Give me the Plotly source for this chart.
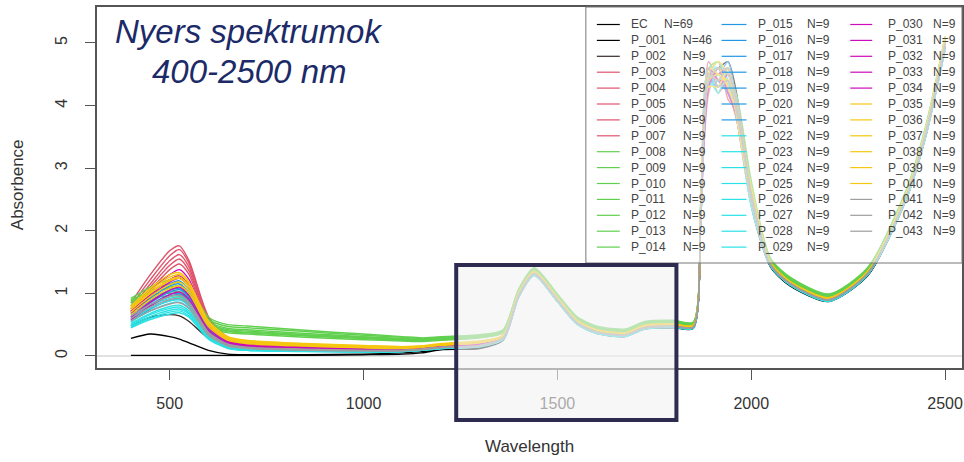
import plotly.graph_objects as go

# ---------------- data ----------------
WAVELENGTH = [400, 450, 500, 525, 550, 600, 650, 700, 850, 1000, 1100, 1150, 1200, 1300,
              1360, 1400, 1440, 1500, 1550, 1600, 1675, 1725, 1800, 1850, 1870, 1890,
              1915, 1940, 1965, 2000, 2050, 2100, 2200, 2300, 2400, 2450, 2500]

EC    = [0.01,0.01,0.01,0.01,0.01,0.01,0.01,0.01,0.01,0.02,0.03,0.05,0.10,0.12,
         0.25,0.94,1.29,0.87,0.51,0.36,0.31,0.43,0.45,0.44,2.2,4.5,4.6,4.7,4.1,2.4,1.42,1.12,0.87,1.28,2.50,3.50,4.90]
P_001 = [0.28,0.35,0.31,0.27,0.21,0.09,0.03,0.02,0.02,0.03,0.05,0.07,0.11,0.14,
         0.27,0.95,1.30,0.88,0.52,0.37,0.32,0.44,0.46,0.45,2.3,4.4,4.5,4.3,3.9,2.5,1.44,1.14,0.88,1.29,2.52,3.52,4.95]
P_002 = [0.48,0.62,0.66,0.64,0.55,0.28,0.14,0.10,0.08,0.07,0.08,0.10,0.14,0.17,
         0.29,0.97,1.32,0.90,0.54,0.39,0.34,0.46,0.48,0.47,2.3,4.3,4.4,4.6,3.8,2.6,1.47,1.17,0.91,1.32,2.58,3.58,5.00]
P_003 = [0.85,1.30,1.68,1.76,1.52,0.63,0.30,0.22,0.16,0.13,0.12,0.14,0.18,0.21,
         0.33,1.00,1.35,0.93,0.57,0.42,0.37,0.48,0.51,0.49,2.4,4.6,4.2,4.4,3.7,2.6,1.50,1.20,0.93,1.35,2.60,3.60,5.05]
P_004 = [0.80,1.22,1.60,1.70,1.48,0.60,0.28,0.20,0.15,0.12,0.11,0.13,0.17,0.20,
         0.32,0.99,1.34,0.92,0.56,0.41,0.36,0.47,0.50,0.48,2.3,4.5,4.7,4.1,3.9,2.5,1.49,1.19,0.92,1.34,2.61,3.62,5.10]
P_005 = [0.76,1.15,1.52,1.62,1.42,0.57,0.27,0.19,0.14,0.11,0.10,0.12,0.16,0.19,
         0.31,0.98,1.33,0.91,0.55,0.40,0.35,0.47,0.49,0.48,2.2,4.4,4.5,4.5,3.8,2.6,1.48,1.18,0.91,1.33,2.57,3.57,5.00]
P_006 = [0.72,1.10,1.45,1.55,1.36,0.55,0.26,0.19,0.14,0.11,0.10,0.12,0.16,0.19,
         0.31,0.99,1.34,0.92,0.56,0.41,0.36,0.47,0.50,0.48,2.4,4.2,4.6,4.3,4.0,2.7,1.50,1.19,0.92,1.34,2.59,3.61,5.05]
P_007 = [0.70,1.05,1.38,1.47,1.30,0.52,0.25,0.18,0.13,0.10,0.10,0.12,0.15,0.18,
         0.30,0.98,1.33,0.91,0.55,0.40,0.35,0.46,0.49,0.47,2.3,4.7,4.4,4.2,3.7,2.5,1.47,1.17,0.91,1.33,2.56,3.56,4.95]
P_008 = [0.92,1.10,1.22,1.25,1.12,0.62,0.50,0.48,0.41,0.35,0.31,0.29,0.31,0.34,
         0.42,1.07,1.41,0.99,0.63,0.48,0.43,0.55,0.57,0.54,2.5,4.5,4.3,4.6,3.9,2.7,1.56,1.26,0.99,1.41,2.66,3.68,5.10]
P_009 = [0.88,1.05,1.15,1.18,1.06,0.58,0.47,0.45,0.39,0.33,0.30,0.28,0.30,0.33,
         0.41,1.06,1.40,0.98,0.62,0.47,0.42,0.54,0.56,0.53,2.4,4.4,4.6,4.2,3.8,2.6,1.55,1.25,0.98,1.40,2.65,3.66,5.05]
P_010 = [0.85,1.00,1.10,1.12,1.00,0.55,0.44,0.42,0.36,0.31,0.28,0.27,0.29,0.32,
         0.40,1.05,1.39,0.97,0.61,0.46,0.41,0.53,0.55,0.52,2.5,4.6,4.4,4.5,4.1,2.8,1.54,1.24,0.97,1.39,2.64,3.65,5.10]
P_011 = [0.90,1.02,1.08,1.08,0.96,0.52,0.42,0.40,0.34,0.30,0.27,0.26,0.28,0.31,
         0.39,1.04,1.38,0.96,0.60,0.45,0.40,0.52,0.54,0.51,2.4,4.3,4.5,4.4,3.7,2.6,1.53,1.23,0.96,1.38,2.63,3.64,5.05]
P_012 = [0.82,0.96,1.02,1.03,0.92,0.50,0.40,0.38,0.33,0.29,0.26,0.25,0.27,0.30,
         0.38,1.03,1.37,0.95,0.59,0.44,0.39,0.51,0.53,0.51,2.5,4.5,4.2,4.6,3.9,2.7,1.52,1.22,0.95,1.37,2.62,3.63,5.00]
P_013 = [0.86,0.98,1.00,0.99,0.88,0.48,0.39,0.37,0.32,0.28,0.25,0.24,0.26,0.30,
         0.38,1.03,1.37,0.95,0.59,0.44,0.39,0.51,0.53,0.50,2.3,4.6,4.7,4.3,3.8,2.6,1.52,1.22,0.95,1.37,2.61,3.62,5.00]
P_014 = [0.80,0.92,0.96,0.95,0.85,0.46,0.37,0.35,0.30,0.26,0.24,0.23,0.25,0.29,
         0.37,1.02,1.36,0.94,0.58,0.43,0.38,0.50,0.52,0.50,2.4,4.4,4.5,4.6,4.0,2.7,1.51,1.21,0.94,1.36,2.60,3.61,5.05]
P_015 = [0.70,0.95,1.15,1.20,1.05,0.45,0.22,0.16,0.12,0.10,0.10,0.12,0.15,0.18,
         0.30,0.98,1.33,0.91,0.55,0.40,0.35,0.46,0.49,0.47,2.3,4.5,4.4,4.2,3.8,2.5,1.47,1.17,0.91,1.33,2.57,3.58,5.00]
P_016 = [0.62,0.85,1.02,1.06,0.93,0.40,0.19,0.14,0.11,0.09,0.09,0.11,0.14,0.17,
         0.29,0.97,1.32,0.90,0.54,0.39,0.34,0.46,0.48,0.46,2.2,4.6,4.5,4.7,3.9,2.6,1.46,1.16,0.90,1.32,2.56,3.57,4.95]
P_017 = [0.58,0.80,0.95,0.98,0.86,0.37,0.18,0.13,0.10,0.09,0.09,0.11,0.14,0.17,
         0.29,0.97,1.32,0.90,0.54,0.39,0.34,0.45,0.48,0.46,2.3,4.3,4.6,4.4,3.7,2.4,1.46,1.16,0.90,1.32,2.55,3.56,5.00]
P_018 = [0.66,0.88,1.05,1.08,0.95,0.42,0.21,0.15,0.12,0.10,0.10,0.12,0.15,0.18,
         0.30,0.98,1.33,0.91,0.55,0.40,0.35,0.46,0.49,0.47,2.4,4.4,4.3,4.5,4.0,2.6,1.47,1.17,0.91,1.33,2.58,3.58,5.05]
P_019 = [0.55,0.75,0.88,0.90,0.80,0.35,0.17,0.12,0.10,0.08,0.08,0.10,0.13,0.16,
         0.28,0.96,1.31,0.89,0.53,0.38,0.33,0.45,0.47,0.46,2.2,4.5,4.6,4.3,3.8,2.5,1.45,1.15,0.89,1.31,2.54,3.55,4.95]
P_020 = [0.60,0.82,0.98,1.00,0.88,0.38,0.18,0.13,0.11,0.09,0.09,0.11,0.14,0.17,
         0.29,0.97,1.32,0.90,0.54,0.39,0.34,0.45,0.48,0.46,2.3,4.6,4.4,4.6,3.9,2.5,1.46,1.16,0.90,1.32,2.56,3.57,5.00]
P_021 = [0.68,0.92,1.12,1.15,1.00,0.43,0.21,0.15,0.12,0.10,0.10,0.12,0.15,0.18,
         0.30,0.98,1.33,0.91,0.55,0.40,0.35,0.46,0.49,0.47,2.4,4.3,4.5,4.4,3.7,2.6,1.47,1.17,0.91,1.33,2.58,3.59,5.05]
P_022 = [0.50,0.66,0.76,0.78,0.69,0.30,0.14,0.10,0.08,0.07,0.07,0.09,0.12,0.15,
         0.27,0.95,1.30,0.88,0.52,0.37,0.32,0.44,0.47,0.45,2.2,4.4,4.5,4.5,3.9,2.5,1.44,1.14,0.88,1.30,2.53,3.53,4.95]
P_023 = [0.46,0.60,0.70,0.72,0.64,0.28,0.13,0.09,0.08,0.07,0.07,0.09,0.12,0.15,
         0.27,0.95,1.30,0.88,0.52,0.37,0.32,0.44,0.46,0.45,2.3,4.5,4.3,4.6,3.8,2.4,1.44,1.14,0.88,1.30,2.52,3.52,4.90]
P_024 = [0.55,0.72,0.84,0.86,0.76,0.33,0.15,0.11,0.09,0.08,0.08,0.10,0.13,0.16,
         0.28,0.96,1.31,0.89,0.53,0.38,0.33,0.45,0.47,0.45,2.3,4.6,4.6,4.2,3.9,2.6,1.45,1.15,0.89,1.31,2.54,3.54,5.00]
P_025 = [0.52,0.68,0.79,0.81,0.72,0.31,0.14,0.10,0.08,0.07,0.08,0.10,0.13,0.16,
         0.28,0.96,1.31,0.89,0.53,0.38,0.33,0.44,0.47,0.45,2.2,4.3,4.4,4.5,4.0,2.5,1.45,1.15,0.89,1.31,2.53,3.54,4.95]
P_026 = [0.58,0.76,0.88,0.90,0.80,0.34,0.16,0.11,0.09,0.08,0.08,0.10,0.13,0.16,
         0.28,0.96,1.31,0.89,0.53,0.38,0.33,0.45,0.47,0.46,2.3,4.5,4.7,4.4,3.8,2.5,1.45,1.15,0.89,1.31,2.55,3.55,5.00]
P_027 = [0.48,0.63,0.73,0.75,0.67,0.29,0.13,0.09,0.08,0.07,0.07,0.09,0.12,0.15,
         0.27,0.95,1.30,0.88,0.52,0.37,0.32,0.44,0.46,0.45,2.2,4.4,4.2,4.6,3.7,2.4,1.44,1.14,0.88,1.30,2.52,3.53,4.90]
P_028 = [0.62,0.80,0.92,0.94,0.83,0.36,0.17,0.12,0.10,0.08,0.08,0.10,0.13,0.16,
         0.28,0.96,1.31,0.89,0.53,0.38,0.33,0.45,0.47,0.46,2.3,4.6,4.5,4.3,3.9,2.6,1.45,1.15,0.89,1.31,2.55,3.55,5.00]
P_029 = [0.45,0.58,0.67,0.69,0.62,0.27,0.12,0.09,0.07,0.06,0.07,0.09,0.12,0.15,
         0.26,0.94,1.29,0.87,0.51,0.36,0.31,0.43,0.46,0.44,2.2,4.5,4.6,4.4,4.0,2.5,1.43,1.13,0.87,1.29,2.51,3.51,4.90]
P_030 = [0.75,1.05,1.30,1.38,1.22,0.50,0.24,0.17,0.13,0.11,0.10,0.12,0.16,0.19,
         0.31,0.99,1.34,0.92,0.56,0.41,0.36,0.47,0.50,0.48,2.3,4.4,4.6,4.3,3.8,2.6,1.48,1.18,0.92,1.34,2.59,3.60,5.05]
P_031 = [0.68,0.95,1.18,1.24,1.10,0.46,0.22,0.16,0.12,0.10,0.10,0.12,0.15,0.18,
         0.30,0.98,1.33,0.91,0.55,0.40,0.35,0.46,0.49,0.47,2.4,4.6,4.3,4.5,3.9,2.5,1.47,1.17,0.91,1.33,2.58,3.59,5.00]
P_032 = [0.62,0.86,1.05,1.10,0.97,0.41,0.20,0.14,0.11,0.09,0.09,0.11,0.14,0.17,
         0.29,0.97,1.32,0.90,0.54,0.39,0.34,0.46,0.48,0.46,2.2,4.5,4.5,4.6,3.7,2.5,1.46,1.16,0.90,1.32,2.56,3.57,5.00]
P_033 = [0.72,0.98,1.22,1.28,1.13,0.47,0.23,0.16,0.12,0.10,0.10,0.12,0.15,0.18,
         0.30,0.98,1.33,0.91,0.55,0.40,0.35,0.46,0.49,0.47,2.3,4.3,4.6,4.2,3.8,2.6,1.47,1.17,0.91,1.33,2.57,3.58,5.05]
P_034 = [0.58,0.80,0.98,1.02,0.90,0.38,0.18,0.13,0.10,0.09,0.09,0.11,0.14,0.17,
         0.29,0.97,1.32,0.90,0.54,0.39,0.34,0.45,0.48,0.46,2.3,4.6,4.4,4.4,4.0,2.6,1.46,1.16,0.90,1.32,2.56,3.56,4.95]
P_035 = [0.78,1.05,1.26,1.30,1.16,0.55,0.30,0.24,0.19,0.16,0.15,0.16,0.19,0.23,
         0.33,1.00,1.35,0.93,0.57,0.42,0.37,0.49,0.51,0.49,2.4,4.5,4.4,4.6,3.9,2.6,1.49,1.19,0.93,1.35,2.60,3.61,5.05]
P_036 = [0.74,1.00,1.20,1.24,1.10,0.52,0.28,0.22,0.18,0.15,0.14,0.15,0.18,0.22,
         0.32,0.99,1.34,0.92,0.56,0.41,0.36,0.48,0.50,0.48,2.3,4.4,4.6,4.3,3.8,2.7,1.48,1.18,0.92,1.34,2.59,3.60,5.00]
P_037 = [0.80,1.08,1.30,1.33,1.18,0.56,0.31,0.25,0.20,0.17,0.15,0.16,0.20,0.24,
         0.33,1.00,1.35,0.93,0.57,0.42,0.37,0.49,0.51,0.49,2.4,4.6,4.5,4.4,4.0,2.6,1.49,1.19,0.93,1.35,2.61,3.62,5.10]
P_038 = [0.70,0.95,1.14,1.18,1.05,0.50,0.27,0.21,0.17,0.14,0.13,0.14,0.18,0.22,
         0.32,0.99,1.34,0.92,0.56,0.41,0.36,0.48,0.50,0.48,2.3,4.3,4.3,4.6,3.7,2.5,1.48,1.18,0.92,1.34,2.58,3.59,5.00]
P_039 = [0.76,1.02,1.22,1.26,1.12,0.53,0.29,0.23,0.18,0.15,0.14,0.15,0.19,0.23,
         0.32,0.99,1.34,0.92,0.56,0.41,0.36,0.48,0.50,0.48,2.4,4.5,4.7,4.5,3.9,2.6,1.48,1.18,0.92,1.34,2.59,3.60,5.05]
P_040 = [0.66,0.90,1.08,1.12,1.00,0.47,0.25,0.20,0.16,0.13,0.12,0.14,0.17,0.21,
         0.31,0.98,1.33,0.91,0.55,0.40,0.35,0.47,0.49,0.47,2.3,4.4,4.5,4.3,3.8,2.5,1.47,1.17,0.91,1.33,2.57,3.58,5.00]
P_041 = [0.60,0.78,0.90,0.92,0.82,0.36,0.18,0.13,0.10,0.09,0.09,0.11,0.14,0.17,
         0.29,0.97,1.32,0.90,0.54,0.39,0.34,0.45,0.48,0.46,2.3,4.5,4.4,4.6,3.9,2.5,1.46,1.16,0.90,1.32,2.56,3.57,5.00]
P_042 = [0.56,0.72,0.83,0.85,0.76,0.33,0.16,0.12,0.09,0.08,0.08,0.10,0.13,0.16,
         0.28,0.96,1.31,0.89,0.53,0.38,0.33,0.45,0.47,0.46,2.2,4.6,4.3,4.4,3.8,2.6,1.45,1.15,0.89,1.31,2.55,3.55,4.95]
P_043 = [0.64,0.82,0.95,0.97,0.86,0.38,0.19,0.14,0.11,0.09,0.09,0.11,0.14,0.17,
         0.29,0.97,1.32,0.90,0.54,0.39,0.34,0.46,0.48,0.46,2.3,4.4,4.6,4.5,4.0,2.6,1.46,1.16,0.90,1.32,2.56,3.57,5.00]

SERIES = [EC, P_001, P_002, P_003, P_004, P_005, P_006, P_007, P_008, P_009, P_010,
          P_011, P_012, P_013, P_014, P_015, P_016, P_017, P_018, P_019, P_020, P_021,
          P_022, P_023, P_024, P_025, P_026, P_027, P_028, P_029, P_030, P_031, P_032,
          P_033, P_034, P_035, P_036, P_037, P_038, P_039, P_040, P_041, P_042, P_043]
NAMES = ["EC"] + ["P_%03d" % i for i in range(1, 44)]
COUNTS = [69, 46] + [9] * 42

# colour groups (R palette)
GROUP_COLORS = ["#000000"] * 2 + ["#3a2a2a"] + ["#DF536B"] * 5 + ["#61D04F"] * 7 + \
               ["#2297E6"] * 7 + ["#28E2E5"] * 8 + ["#CD0BBC"] * 5 + ["#F5C710"] * 6 + ["#9E9E9E"] * 3

X_TICKS = [500, 1000, 1500, 2000, 2500]
Y_TICKS = [0, 1, 2, 3, 4, 5]

# ---------------- figure ----------------
W, H = 964, 462
ML, MR, MT, MB = 97, 0, 7, 94
PW, PH = W - ML - MR, H - MT - MB

def px_x(px):
    return (px - ML) / PW

def px_y(py):
    return (H - MB - py) / PH

fig = go.Figure()
for name, vals, col in zip(NAMES, SERIES, GROUP_COLORS):
    fig.add_trace(go.Scatter(x=WAVELENGTH, y=vals, mode="lines", name=name,
                             line=dict(color=col, width=1.4, shape="spline", smoothing=0.7),
                             showlegend=False, hoverinfo="skip"))

axis_font = dict(family="Liberation Sans, Arial, sans-serif", size=16, color="#333")
fig.update_xaxes(range=[312.5, 2543.6], tickvals=X_TICKS, ticks="outside", ticklen=10,
                 tickcolor="#555", tickwidth=1.2, showgrid=False, zeroline=False,
                 showline=True, mirror=True, linecolor="#555", linewidth=1.5,
                 tickfont=axis_font, ticklabelstandoff=10)
fig.update_yaxes(range=[-0.192, 5.575], tickvals=Y_TICKS, ticks="outside", ticklen=10,
                 tickcolor="#555", tickwidth=1.2, showgrid=False, zeroline=False,
                 showline=True, mirror=True, linecolor="#555", linewidth=1.5,
                 tickfont=axis_font, tickangle=-90, ticklabelstandoff=12)

shapes = []
# grey reference line at zero
shapes.append(dict(type="line", xref="paper", yref="y", x0=0, x1=1, y0=0, y1=0,
                   line=dict(color="#c4c4c4", width=1.2), layer="below"))
# legend box (light, partly see-through)
shapes.append(dict(type="rect", xref="paper", yref="paper", x0=px_x(587), x1=1.0,
                   y0=px_y(263), y1=1.0, line=dict(color="#777", width=1),
                   fillcolor="rgba(255,255,255,0.5)", layer="above"))

annotations = []
col_geom = [(598, 621, 630, 682), (723, 748, 758, 807), (852, 874, 888, 933)]
for i, (name, n, col) in enumerate(zip(NAMES, COUNTS, GROUP_COLORS)):
    c = 0 if i < 15 else (1 if i < 30 else 2)
    r = i if c == 0 else (i - 15 if c == 1 else i - 30)
    lx0, lx1, tx, nx = col_geom[c]
    if i == 0:
        nx = 663
    yy = px_y(24.5 + 15.9 * r)
    shapes.append(dict(type="line", xref="paper", yref="paper", x0=px_x(lx0), x1=px_x(lx1),
                       y0=yy, y1=yy, line=dict(color=col, width=1.2), layer="above"))
    lf = dict(family="Liberation Sans, Arial, sans-serif", size=12, color="#444")
    annotations.append(dict(text=name, xref="paper", yref="paper", x=px_x(tx), y=yy,
                            xanchor="left", yanchor="middle", showarrow=False, font=lf))
    annotations.append(dict(text="N=%d" % n, xref="paper", yref="paper", x=px_x(nx), y=yy,
                            xanchor="left", yanchor="middle", showarrow=False, font=lf))

# highlight box over the 1250-1800 nm region
shapes.append(dict(type="rect", xref="x", yref="paper", x0=1239, x1=1807,
                   y0=px_y(420), y1=px_y(265), line=dict(color="#2e2b50", width=4),
                   fillcolor="rgba(242,242,242,0.62)", layer="above"))

title_font = dict(family="Liberation Sans, Arial, sans-serif", size=33, color="#1c2a68")
annotations.append(dict(text="<i>Nyers spektrumok</i>", xref="paper", yref="paper",
                        x=px_x(249), y=px_y(31), xanchor="center", yanchor="middle",
                        showarrow=False, font=title_font))
annotations.append(dict(text="<i>400-2500 nm</i>", xref="paper", yref="paper",
                        x=px_x(249), y=px_y(71), xanchor="center", yanchor="middle",
                        showarrow=False, font=title_font))
annotations.append(dict(text="Wavelength", xref="paper", yref="paper", x=px_x(531), y=px_y(447),
                        xanchor="center", yanchor="middle", showarrow=False,
                        font=dict(family="Liberation Sans, Arial, sans-serif", size=17, color="#333")))
annotations.append(dict(text="Absorbence", xref="paper", yref="paper", x=px_x(18), y=px_y(185),
                        xanchor="center", yanchor="middle", showarrow=False, textangle=-90,
                        font=dict(family="Liberation Sans, Arial, sans-serif", size=17, color="#333")))

fig.update_layout(width=W, height=H, margin=dict(l=ML, r=MR, t=MT, b=MB),
                  plot_bgcolor="white", paper_bgcolor="white",
                  shapes=shapes, annotations=annotations, showlegend=False,
                  hovermode=False)

fig.write_html("out.html")
